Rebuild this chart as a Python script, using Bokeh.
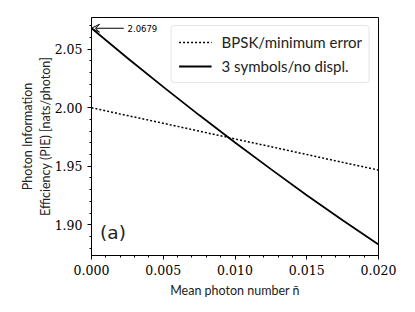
from bokeh.plotting import figure
from bokeh.models import (ColumnDataSource, FixedTicker, Range1d, Legend, LegendItem,
                          Label, Arrow, VeeHead, NumeralTickFormatter)
from bokeh.embed import file_html
from bokeh.resources import INLINE

# Data
n_bar = [0.0, 0.0025, 0.005, 0.0075, 0.01, 0.0125, 0.015, 0.0175, 0.02]
pie_bpsk = [2.0000, 1.9933, 1.9867, 1.9800, 1.9733, 1.9667, 1.9600, 1.9533, 1.9467]
pie_3sym = [2.0679, 2.0425, 2.0178, 1.9937, 1.9703, 1.9475, 1.9252, 1.9038, 1.8830]
x_ticks = [0.000, 0.005, 0.010, 0.015, 0.020]
y_ticks = [1.90, 1.95, 2.00, 2.05]
peak_value = 2.0679

src = ColumnDataSource(dict(x=n_bar, bpsk=pie_bpsk, sym3=pie_3sym))

p = figure(frame_width=287, frame_height=238, output_backend="svg", toolbar_location=None,
           x_range=Range1d(0.0, 0.02), y_range=Range1d(1.8737, 2.0771),
           min_border_left=91, min_border_right=21, min_border_top=17, min_border_bottom=40)
p.grid.visible = False
p.outline_line_color = "black"
p.outline_line_width = 1
p.background_fill_color = "white"
p.border_fill_color = "white"

r1 = p.line("x", "bpsk", source=src, line_color="black", line_width=1.5, line_dash="2 2")
r2 = p.line("x", "sym3", source=src, line_color="black", line_width=1.8)

p.xaxis.ticker = FixedTicker(ticks=x_ticks, minor_ticks=[i * 0.001 for i in range(21)])
p.yaxis.ticker = FixedTicker(ticks=y_ticks, minor_ticks=[1.87 + i * 0.01 for i in range(22)])
p.xaxis.formatter = NumeralTickFormatter(format="0.000")
p.yaxis.formatter = NumeralTickFormatter(format="0.00")

for ax in (p.xaxis[0], p.yaxis[0]):
    ax.major_tick_in = 0
    ax.major_tick_out = 4
    ax.minor_tick_in = 0
    ax.minor_tick_out = 2
    ax.axis_line_color = "black"
    ax.major_tick_line_color = "black"
    ax.minor_tick_line_color = "black"
    ax.major_label_text_font = "DejaVu Serif"
    ax.major_label_text_font_size = "12.5px"
    ax.major_label_text_font_style = "normal"
    ax.major_label_text_color = "black"
    ax.axis_label_text_font = "Lato"
    ax.axis_label_text_font_size = "12.5px"
    ax.axis_label_text_font_style = "normal"
    ax.axis_label_text_color = "#222222"

p.xaxis.axis_label = "Mean photon number n\u0304"
p.yaxis.axis_label = "Photon Information\nEfficiency (PIE) [nats/photon]"
p.xaxis.major_label_standoff = 5
p.yaxis.major_label_standoff = 5
p.xaxis.axis_label_standoff = 5
p.yaxis.axis_label_standoff = -1

legend = Legend(items=[LegendItem(label="BPSK/minimum error", renderers=[r1]),
                       LegendItem(label="3 symbols/no displ.", renderers=[r2])],
                location="top_right")
legend.label_text_font = "Lato"
legend.label_text_font_size = "15px"
legend.label_text_color = "#222222"
legend.border_line_color = "#cccccc"
legend.border_radius = 4
legend.glyph_width = 33
legend.glyph_height = 18
legend.label_standoff = 10
legend.spacing = 6
legend.padding = 7
legend.margin = 8
p.add_layout(legend)

p.add_layout(Arrow(end=VeeHead(size=8, fill_alpha=0, line_color="black", line_width=1),
                   x_start=0.00225, y_start=peak_value, x_end=0.0, y_end=peak_value,
                   line_color="black", line_width=1))
p.add_layout(Label(x=0.00251, y=peak_value, text="2.0679", text_font="DejaVu Sans",
                   text_font_size="8.5px", text_baseline="middle", text_color="black"))
p.add_layout(Label(x=0.0006, y=1.8848, text="(a)", text_font="DejaVu Sans",
                   text_font_size="18.5px", text_baseline="bottom", text_color="#222222"))

open("out.html", "w").write(file_html(p, INLINE))
